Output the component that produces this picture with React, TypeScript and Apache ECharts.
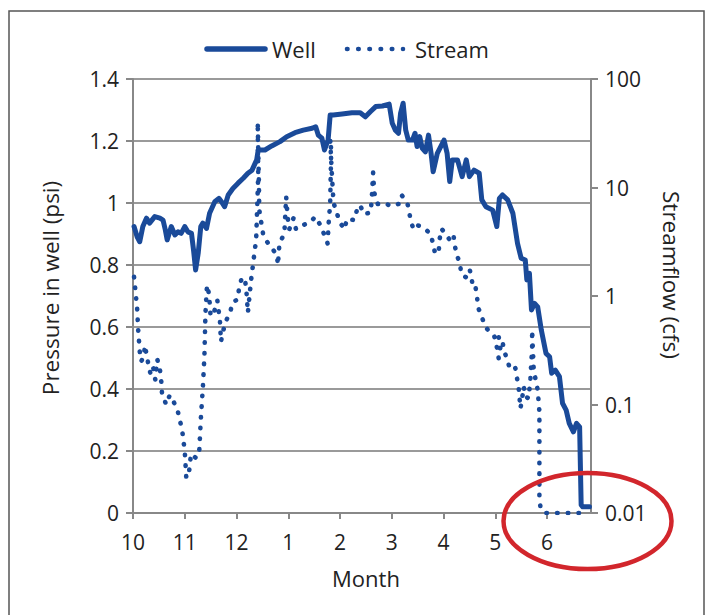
import React, { useEffect, useRef } from "react";
import * as echarts from "echarts";

// Month tick labels (x axis index 0 = start of October)
const monthLabels = ["10", "11", "12", "1", "2", "3", "4", "5", "6"];
const monthTicks = [0, 1, 2, 3, 4, 5, 6, 7, 8];

// Well pressure (psi): [month position, value]
const wellData: [number, number][] = [
  [0.02, 0.924], [0.08, 0.891], [0.13, 0.875], [0.19, 0.924], [0.26, 0.951], [0.32, 0.935],
  [0.42, 0.956], [0.52, 0.951], [0.58, 0.945], [0.625, 0.913], [0.66, 0.881], [0.74, 0.924],
  [0.81, 0.897], [0.87, 0.907], [0.93, 0.902], [1.0, 0.924], [1.06, 0.907], [1.13, 0.902],
  [1.17, 0.848], [1.21, 0.784], [1.26, 0.838], [1.31, 0.924], [1.35, 0.935], [1.42, 0.918],
  [1.48, 0.967], [1.58, 1.004], [1.66, 1.015], [1.71, 1.004], [1.77, 0.988], [1.84, 1.026],
  [1.93, 1.047], [2.03, 1.064], [2.13, 1.08], [2.22, 1.096], [2.3, 1.106], [2.39, 1.139],
  [2.42, 1.171], [2.55, 1.171], [2.68, 1.184], [2.84, 1.198], [2.97, 1.214], [3.13, 1.227],
  [3.29, 1.235], [3.46, 1.241], [3.53, 1.246], [3.58, 1.219], [3.65, 1.209], [3.7, 1.171],
  [3.77, 1.203], [3.81, 1.284], [3.87, 1.284], [4.04, 1.287], [4.23, 1.291], [4.39, 1.291],
  [4.49, 1.278], [4.59, 1.295], [4.69, 1.311], [4.82, 1.313], [4.95, 1.319], [5.01, 1.257],
  [5.07, 1.235], [5.13, 1.225], [5.17, 1.289], [5.22, 1.322], [5.27, 1.235], [5.32, 1.203],
  [5.4, 1.203], [5.45, 1.225], [5.49, 1.182], [5.54, 1.214], [5.59, 1.176], [5.65, 1.165],
  [5.71, 1.219], [5.76, 1.16], [5.8, 1.101], [5.88, 1.16], [6.01, 1.203], [6.07, 1.16],
  [6.12, 1.069], [6.17, 1.139], [6.27, 1.139], [6.36, 1.085], [6.44, 1.139], [6.5, 1.085],
  [6.59, 1.106], [6.69, 1.096], [6.74, 1.01], [6.82, 0.988], [6.95, 0.977], [7.03, 0.924],
  [7.08, 1.015], [7.14, 1.026], [7.24, 1.01], [7.34, 0.967], [7.43, 0.87], [7.5, 0.822],
  [7.58, 0.816], [7.61, 0.752], [7.66, 0.773], [7.7, 0.655], [7.76, 0.676], [7.82, 0.665],
  [7.89, 0.59], [7.98, 0.515], [8.05, 0.504], [8.09, 0.451], [8.16, 0.461], [8.24, 0.44],
  [8.3, 0.354], [8.37, 0.332], [8.43, 0.289], [8.51, 0.262], [8.57, 0.289], [8.63, 0.278],
  [8.66, 0.026], [8.69, 0.02], [8.82, 0.02],
];

// Streamflow (cfs): [month position, value]
const streamData: [number, number][] = [
  [0.02, 1.5], [0.08, 0.77], [0.1, 0.49], [0.13, 0.31], [0.16, 0.25], [0.21, 0.28],
  [0.23, 0.35], [0.3, 0.23], [0.34, 0.19], [0.39, 0.22], [0.43, 0.17], [0.47, 0.26],
  [0.52, 0.21], [0.55, 0.157], [0.56, 0.127], [0.64, 0.1], [0.71, 0.122], [0.77, 0.11],
  [0.86, 0.089], [0.95, 0.058], [1.0, 0.037], [1.03, 0.021], [1.08, 0.023], [1.12, 0.035],
  [1.22, 0.032], [1.28, 0.037], [1.31, 0.073], [1.35, 0.144], [1.38, 0.28], [1.4, 0.69],
  [1.43, 1.26], [1.47, 1.04], [1.5, 0.65], [1.57, 0.72], [1.63, 0.91], [1.68, 0.59],
  [1.7, 0.38], [1.74, 0.47], [1.79, 0.58], [1.88, 0.71], [1.92, 0.87], [2.02, 0.93],
  [2.05, 1.18], [2.1, 1.46], [2.16, 1.46], [2.19, 1.14], [2.22, 0.7], [2.28, 1.38],
  [2.33, 2.15], [2.38, 3.34], [2.4, 6.56], [2.42, 13.3], [2.41, 40], [2.43, 13],
  [2.44, 6.2], [2.52, 3.57], [2.61, 3.06], [2.71, 2.65], [2.78, 2.39], [2.8, 1.93],
  [2.83, 3.06], [2.89, 3.48], [2.93, 4.21], [2.96, 8.2], [2.99, 5.24], [3.02, 4.12],
  [3.1, 5.2], [3.15, 4.12], [3.29, 4.51], [3.44, 4.84], [3.52, 5.38], [3.62, 4.51],
  [3.69, 3.73], [3.76, 3.06], [3.78, 4.67], [3.81, 7.15], [3.83, 22], [3.81, 28],
  [3.84, 14], [3.875, 7.24], [3.94, 5.78], [4.0, 4.74], [4.09, 4.12], [4.13, 5.13],
  [4.28, 5.01], [4.33, 6.3], [4.39, 6.9], [4.455, 5.7], [4.59, 5.86], [4.61, 7.4],
  [4.64, 13.7], [4.66, 9.1], [4.675, 8.5], [4.73, 7.05], [4.85, 7.2], [4.99, 6.75],
  [5.13, 7.05], [5.19, 8.5], [5.255, 7.8], [5.3, 7.2], [5.33, 6.3], [5.36, 5.09],
  [5.42, 4.12], [5.49, 4.51], [5.59, 4.3], [5.65, 4.12], [5.75, 3.73], [5.8, 3.01],
  [5.84, 2.42], [5.91, 2.69], [5.925, 3.35], [5.96, 4.15], [6.01, 3.92], [6.11, 3.34],
  [6.19, 3.73], [6.215, 3.01], [6.25, 2.42], [6.32, 2.0], [6.34, 1.6], [6.43, 1.49],
  [6.505, 1.76], [6.54, 1.49], [6.57, 1.18], [6.62, 1.2], [6.65, 0.96], [6.67, 0.78],
  [6.74, 0.64], [6.81, 0.52], [6.905, 0.456], [6.98, 0.43], [7.035, 0.33], [7.066, 0.267],
  [7.099, 0.337], [7.066, 0.42], [7.132, 0.41], [7.163, 0.323], [7.228, 0.26], [7.292, 0.208],
  [7.389, 0.216], [7.453, 0.141], [7.486, 0.092], [7.518, 0.112], [7.549, 0.146], [7.582, 0.118],
  [7.646, 0.114], [7.679, 0.174], [7.712, 0.33], [7.712, 0.486], [7.743, 0.208], [7.82, 0.136],
  [7.853, 0.086], [7.853, 0.035], [7.853, 0.0141], [7.872, 0.0114], [7.95, 0.01], [8.77, 0.01],
];

const BLUE = "#1a4a99";
const GRID = "#9a9a9a";
const AXIS = "#888888";
const TEXT = "#222222";
const FONT = '"Open Sans", "Noto Sans", sans-serif';

export default function App() {
  const ref = useRef<HTMLDivElement>(null);

  useEffect(() => {
    if (!ref.current) return;
    const chart = echarts.init(ref.current, undefined, { renderer: "svg" });
    chart.setOption({
      animation: false,
      backgroundColor: "#ffffff",
      grid: { left: 133, right: 118, top: 79, bottom: 102, containLabel: false },
      xAxis: {
        type: "value",
        min: 0,
        max: 8.85,
        interval: 1,
        splitLine: { show: false },
        axisLine: { show: true, lineStyle: { color: AXIS, width: 2 } },
        axisTick: {
          show: true,
          length: 6,
          customValues: monthTicks,
          lineStyle: { color: AXIS, width: 2 },
        },
        axisLabel: {
          customValues: monthTicks,
          margin: 18,
          color: TEXT,
          fontSize: 21,
          fontFamily: FONT,
          formatter: (v: number) => monthLabels[Math.round(v)] ?? "",
        },
      },
      yAxis: [
        {
          type: "value",
          min: 0,
          max: 1.4,
          interval: 0.2,
          axisLine: { show: true, lineStyle: { color: AXIS, width: 2 } },
          axisTick: { show: true, length: 7, lineStyle: { color: AXIS, width: 2 } },
          splitLine: { show: true, lineStyle: { color: GRID, width: 2 } },
          axisLabel: { margin: 14, color: TEXT, fontSize: 21, fontFamily: FONT },
        },
        {
          type: "log",
          logBase: 10,
          min: 0.01,
          max: 100,
          position: "right",
          axisLine: { show: true, lineStyle: { color: AXIS, width: 2 } },
          axisTick: { show: true, length: 7, lineStyle: { color: AXIS, width: 2 } },
          splitLine: { show: false },
          minorTick: { show: false },
          axisLabel: {
            margin: 14,
            color: TEXT,
            fontSize: 21,
            fontFamily: FONT,
            formatter: (v: number) => String(Number(v.toPrecision(3))),
          },
        },
      ],
      series: [
        {
          name: "Stream",
          type: "line",
          yAxisIndex: 1,
          data: streamData,
          showSymbol: false,
          symbol: "none",
          lineStyle: { color: BLUE, width: 4.6, type: [0.5, 10.2], cap: "round", join: "round" },
          z: 2,
        },
        {
          name: "Well",
          type: "line",
          yAxisIndex: 0,
          data: wellData,
          showSymbol: false,
          symbol: "none",
          lineStyle: { color: BLUE, width: 5, cap: "round", join: "round" },
          z: 3,
        },
      ],
      graphic: [
        {
          type: "rect",
          shape: { x: 9, y: 11, width: 695, height: 640 },
          style: { fill: "none", stroke: "#555555", lineWidth: 1.5 },
          silent: true,
        },
        {
          type: "line",
          shape: { x1: 207, y1: 49, x2: 265, y2: 49 },
          style: { stroke: BLUE, lineWidth: 5.5, lineCap: "round" },
        },
        {
          type: "text",
          x: 272,
          y: 49,
          style: { text: "Well", fill: TEXT, fontSize: 22, fontFamily: FONT, textAlign: "left", textVerticalAlign: "middle" },
        },
        {
          type: "line",
          shape: { x1: 347, y1: 49, x2: 403, y2: 49 },
          style: { stroke: BLUE, lineWidth: 4.6, lineCap: "round", lineDash: [0.5, 10.7] },
        },
        {
          type: "text",
          x: 415,
          y: 49,
          style: { text: "Stream", fill: TEXT, fontSize: 22, fontFamily: FONT, textAlign: "left", textVerticalAlign: "middle" },
        },
        {
          type: "text",
          x: 366,
          y: 578,
          style: { text: "Month", fill: TEXT, fontSize: 22, fontFamily: FONT, textAlign: "center", textVerticalAlign: "middle" },
        },
        {
          type: "text",
          x: 50,
          y: 288,
          rotation: Math.PI / 2,
          style: { text: "Pressure in well (psi)", fill: TEXT, fontSize: 22.5, fontFamily: FONT, textAlign: "center", textVerticalAlign: "middle" },
        },
        {
          type: "text",
          x: 671,
          y: 275,
          rotation: -Math.PI / 2,
          style: { text: "Streamflow (cfs)", fill: TEXT, fontSize: 22.5, fontFamily: FONT, textAlign: "center", textVerticalAlign: "middle" },
        },
        {
          type: "ellipse",
          shape: { cx: 587.5, cy: 521, rx: 84, ry: 48 },
          style: { fill: "none", stroke: "#d2262c", lineWidth: 4.5 },
          z: 100,
        },
      ],
    });
    return () => chart.dispose();
  }, []);

  return (
    <div
      ref={ref}
      style={{ position: "absolute", left: 0, top: 0, width: 709, height: 615, background: "#fff" }}
    />
  );
}
